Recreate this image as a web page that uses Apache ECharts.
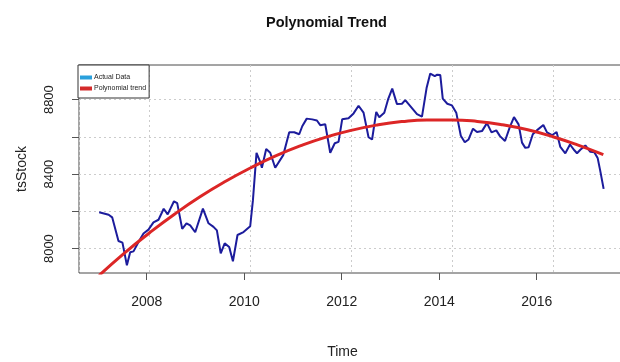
<!DOCTYPE html>
<html>
<head>
<meta charset="utf-8">
<script src="https://cdn.jsdelivr.net/npm/echarts@6/dist/echarts.min.js"></script>
<style>html,body{margin:0;padding:0;background:#fff}#c{width:620px;height:362px}</style>
</head>
<body>
<div id="c"></div>
<script>
const chartTitle = 'Polynomial Trend';
const seriesNames = ['Actual Data', 'Polynomial trend'];
const actualTime = [2007.000,2007.188,2007.258,2007.383,2007.462,2007.550,2007.615,2007.681,2007.780,2007.879,2007.978,2008.077,2008.177,2008.280,2008.359,2008.484,2008.548,2008.647,2008.732,2008.806,2008.905,2009.058,2009.169,2009.268,2009.335,2009.411,2009.490,2009.579,2009.653,2009.744,2009.863,2009.996,2010.050,2010.121,2010.194,2010.228,2010.313,2010.393,2010.492,2010.651,2010.770,2010.869,2010.968,2011.028,2011.117,2011.226,2011.319,2011.385,2011.484,2011.583,2011.673,2011.748,2011.821,2011.946,2012.046,2012.145,2012.244,2012.343,2012.413,2012.496,2012.556,2012.655,2012.730,2012.813,2012.907,2013.006,2013.071,2013.171,2013.304,2013.403,2013.494,2013.567,2013.657,2013.706,2013.766,2013.815,2013.905,2013.998,2014.083,2014.173,2014.252,2014.327,2014.415,2014.494,2014.593,2014.692,2014.782,2014.877,2014.950,2015.050,2015.145,2015.228,2015.319,2015.387,2015.452,2015.518,2015.601,2015.681,2015.810,2015.883,2015.982,2016.073,2016.147,2016.246,2016.339,2016.425,2016.478,2016.544,2016.643,2016.742,2016.821,2016.887,2016.940,2017.006];
const actualValue = [8195,8182,8168,8041,8032,7910,7980,7985,8035,8081,8102,8141,8155,8214,8184,8254,8244,8106,8136,8125,8088,8215,8136,8117,8098,7975,8028,8009,7932,8073,8089,8120,8260,8514,8466,8434,8535,8515,8434,8502,8625,8625,8614,8657,8698,8694,8688,8663,8668,8515,8566,8573,8695,8700,8726,8767,8730,8598,8586,8734,8706,8730,8801,8859,8776,8778,8797,8765,8722,8709,8862,8940,8926,8934,8932,8805,8778,8769,8730,8606,8571,8586,8644,8626,8631,8674,8624,8635,8604,8578,8652,8706,8667,8569,8541,8544,8614,8635,8664,8624,8609,8626,8546,8512,8559,8528,8512,8531,8554,8520,8518,8487,8416,8321];
const trendTime = [2007.0,2007.5,2008.0,2008.5,2009.0,2009.5,2010.0,2010.5,2011.0,2011.5,2012.0,2012.5,2013.0,2013.5,2014.0,2014.5,2015.0,2015.5,2016.0,2016.5,2017.0];
const trendValue = [7856,7976,8085,8186,8278,8360,8433,8498,8553,8599,8635,8663,8682,8691,8691,8683,8665,8638,8601,8556,8505];
const xTickLabels = [2008, 2010, 2012, 2014, 2016];
const yTickMarks = [8000, 8200, 8400, 8600, 8800];
const yTickLabels = [8000, 8400, 8800];

const zip = (a, b) => a.map((v, i) => [v, b[i]]);
const font = 'Liberation Sans, Arial, Helvetica, sans-serif';
const gridLine = { show: true, lineStyle: { color: '#cccccc', type: [2, 3], width: 1 } };
const plain = v => String(Math.round(v));

const chart = echarts.init(document.getElementById('c'), null, { renderer: 'canvas' });
chart.setOption({
  animation: false,
  backgroundColor: '#fff',
  textStyle: { fontFamily: font },
  title: {
    text: chartTitle, left: 261, top: 10,
    textStyle: { fontFamily: font, fontSize: 14.5, fontWeight: 'bold', color: '#111' }
  },
  legend: {
    orient: 'vertical', left: 78, top: 65,
    icon: 'rect', itemWidth: 12, itemHeight: 4, itemGap: 4,
    padding: [9, 3, 6, 2],
    borderColor: '#333', borderWidth: 1, backgroundColor: '#fff',
    textStyle: { fontFamily: font, fontSize: 7, color: '#222', padding: [0, 0, 0, -3] },
    data: [
      { name: seriesNames[0], itemStyle: { color: '#2aa0dc' } },
      { name: seriesNames[1], itemStyle: { color: '#d42a2a' } }
    ]
  },
  grid: {
    left: 79, right: -4, top: 65, bottom: 89,
    outerBoundsMode: 'none', containLabel: false,
    show: true, borderColor: '#4a4a4a', borderWidth: 1, backgroundColor: 'transparent'
  },
  xAxis: [
    {
      type: 'value', min: 2006.6, max: 2017.41, splitNumber: 5,
      axisLine: { show: false }, axisTick: { show: false }, axisLabel: { show: false },
      splitLine: gridLine
    },
    {
      type: 'value', position: 'bottom', min: 2006.611, max: 2017.79, splitNumber: 5,
      axisLine: { show: false },
      axisTick: { show: true, length: 7, customValues: xTickLabels, lineStyle: { color: '#555' } },
      axisLabel: { customValues: xTickLabels, formatter: plain, margin: 22, fontSize: 14, color: '#222', fontFamily: font },
      splitLine: { show: false },
      name: 'Time', nameLocation: 'middle', nameGap: 72,
      nameTextStyle: { fontSize: 14, color: '#222', fontFamily: font, padding: [0, 18, 0, 0] }
    }
  ],
  yAxis: {
    type: 'value', min: 7869, max: 8986, splitNumber: 5,
    axisLine: { show: false },
    axisTick: { show: true, length: 7, customValues: yTickMarks, lineStyle: { color: '#555' } },
    axisLabel: { customValues: yTickLabels, formatter: plain, rotate: 90, margin: 23, fontSize: 13, color: '#222', fontFamily: font },
    splitLine: gridLine,
    name: 'tsStock', nameLocation: 'middle', nameGap: 50,
    nameTextStyle: { fontSize: 14, color: '#222', fontFamily: font }
  },
  series: [
    {
      name: seriesNames[0], type: 'line', xAxisIndex: 0,
      data: zip(actualTime, actualValue),
      showSymbol: false, lineStyle: { color: '#1c1c9c', width: 2 }, itemStyle: { color: '#1c1c9c' }
    },
    {
      name: seriesNames[1], type: 'line', xAxisIndex: 0, smooth: true,
      data: zip(trendTime, trendValue),
      showSymbol: false, lineStyle: { color: '#dc2626', width: 3 }, itemStyle: { color: '#dc2626' }
    }
  ]
});
</script>
</body>
</html>
